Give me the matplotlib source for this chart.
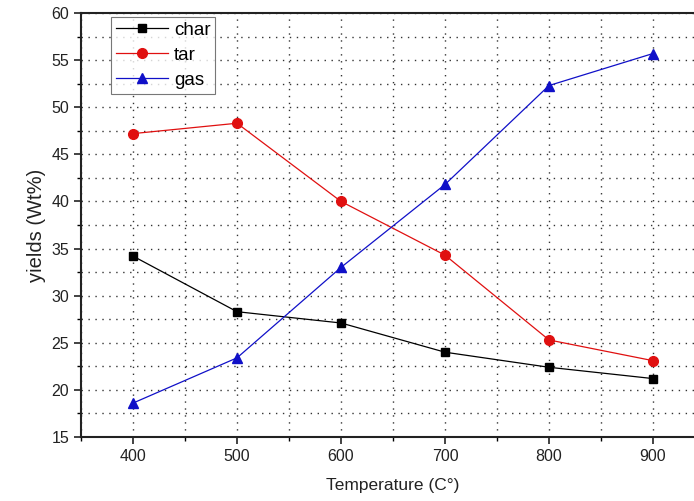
import matplotlib
matplotlib.use("Agg")
import matplotlib.pyplot as plt
from matplotlib.ticker import MultipleLocator

temperature = [400, 500, 600, 700, 800, 900]
char = [34.2, 28.3, 27.1, 24.0, 22.4, 21.2]
tar = [47.2, 48.3, 40.0, 34.3, 25.3, 23.1]
gas = [18.6, 23.4, 33.0, 41.8, 52.3, 55.7]

plt.rcParams['font.family'] = ['Liberation Sans', 'DejaVu Sans']

fig = plt.figure(figsize=(6.94, 5.01), dpi=100)
ax = fig.add_axes([81/694, 64/501, 624/694, 424/501])

ax.plot(temperature, char, color='black', lw=0.9, marker='s', ms=6, label='char')
ax.plot(temperature, tar, color='#e01010', lw=0.9, marker='o', ms=7, label='tar')
ax.plot(temperature, gas, color='#1010c8', lw=0.9, marker='^', ms=7, label='gas')

ax.set_xlim(350, 950)
ax.set_ylim(15, 60)
ax.xaxis.set_major_locator(MultipleLocator(100))
ax.xaxis.set_minor_locator(MultipleLocator(50))
ax.yaxis.set_major_locator(MultipleLocator(5))
ax.yaxis.set_minor_locator(MultipleLocator(2.5))
ax.grid(True, which='both', color='black', linestyle=(0, (1, 4)), linewidth=1.0, alpha=0.8)
ax.tick_params(which='major', direction='out', length=5, width=1.2, labelsize=11.5, colors='#222222')
ax.tick_params(which='minor', direction='out', length=3, width=1.0)
for s in ax.spines.values():
    s.set_linewidth(1.5)
    s.set_color('#222222')

ax.set_xlabel('Temperature (C°)', fontsize=12.5, labelpad=10, color='#222222')
ax.set_ylabel('yields (Wt%)', fontsize=14.5, labelpad=4, color='#222222')

leg = ax.legend(loc='upper left', bbox_to_anchor=(30/624, 1 - 4/424), borderaxespad=0,
                fontsize=13.5, frameon=True, fancybox=False, edgecolor='#555555',
                handlelength=2.8, borderpad=0.25, labelspacing=0.42, handletextpad=0.3)
leg.get_frame().set_linewidth(0.8)

fig.savefig('out.png', dpi=100)
